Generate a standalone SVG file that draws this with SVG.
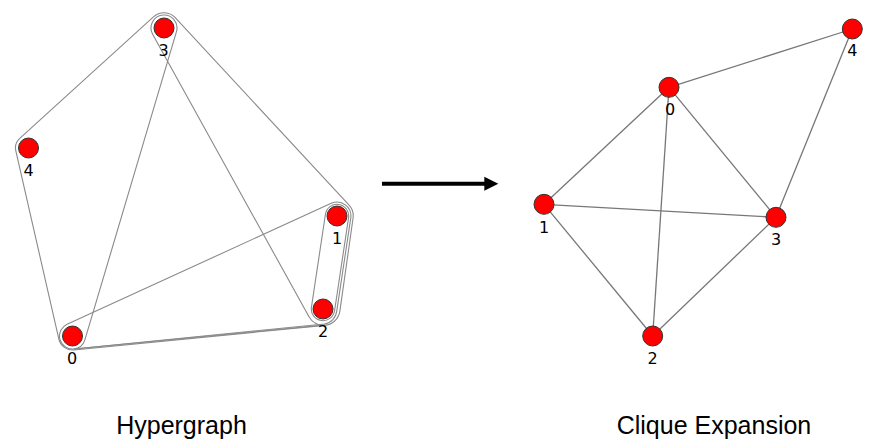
<svg xmlns="http://www.w3.org/2000/svg" width="871" height="446" viewBox="0 0 871 446">
<style>
.hull{fill:none;stroke:#8a8a8a;stroke-width:1.1}
.edge{stroke:#777;stroke-width:1.3;fill:none}
.node circle{fill:#ff0000;stroke:#333;stroke-width:1}
.lbl{font-family:"DejaVu Sans",sans-serif;font-size:16px;fill:#000;text-anchor:middle}
.title{font-family:"Liberation Sans",Arial,sans-serif;font-size:25px;fill:#000;text-anchor:middle}
</style>
<rect width="871" height="446" fill="#fff"/>
<g id="hyperedges">
<path class="hull" d="M 19.76,138.38 L 153.71,16.67 A 15.3 15.3 0 0 1 175.22,17.60 L 348.88,204.99 A 16.2 16.2 0 0 1 353.04,218.28 L 339.83,311.39 A 16.8 16.8 0 0 1 324.61,325.42 L 73.86,349.93 A 14 14 0 0 1 58.85,339.12 L 15.83,150.90 A 13 13 0 0 1 19.76,138.38 Z"/>
<path class="hull" d="M 67.09,324.18 L 331.22,203.36 A 13.9 13.9 0 0 1 350.75,218.07 L 336.75,311.07 A 14.4 14.4 0 0 1 324.49,323.93 L 73.79,348.94 A 13 13 0 0 1 67.09,324.18 Z"/>
<path class="hull" d="M 152.63,34.30 A 13 13 0 1 1 176.46,31.70 L 84.96,339.70 A 13 13 0 0 1 73.74,348.94 L 324.53,324.93 A 16 16 0 0 1 309.00,316.75 Z"/>
<path class="hull" d="M 348.57,217.74 L 334.57,310.74 A 11.7 11.7 0 0 1 311.43,307.26 L 325.43,214.26 A 11.7 11.7 0 0 1 348.57,217.74 Z"/>
</g>
<g id="hg-node-0" class="node"><circle cx="72.5" cy="336" r="10"/><text class="lbl" x="72" y="364">0</text></g>
<g id="hg-node-1" class="node"><circle cx="337" cy="216" r="10"/><text class="lbl" x="337" y="243.5">1</text></g>
<g id="hg-node-2" class="node"><circle cx="323" cy="309" r="10"/><text class="lbl" x="323" y="337">2</text></g>
<g id="hg-node-3" class="node"><circle cx="164" cy="28" r="10"/><text class="lbl" x="163.5" y="56">3</text></g>
<g id="hg-node-4" class="node"><circle cx="28.5" cy="148" r="10"/><text class="lbl" x="28.5" y="176">4</text></g>
<g id="transform-arrow">
<line x1="382" y1="183.7" x2="486" y2="183.7" stroke="#000" stroke-width="4"/>
<polygon points="484.3,176.7 498.3,183.7 484.3,190.7" fill="#000"/>
</g>
<g id="clique-edges">
<line class="edge" x1="669" y1="87.3" x2="852.3" y2="29"/>
<line class="edge" x1="669" y1="87.3" x2="544" y2="204.3"/>
<line class="edge" x1="669" y1="87.3" x2="776" y2="217.3"/>
<line class="edge" x1="669" y1="87.3" x2="652.7" y2="336"/>
<line class="edge" x1="852.3" y1="29" x2="776" y2="217.3"/>
<line class="edge" x1="544" y1="204.3" x2="776" y2="217.3"/>
<line class="edge" x1="544" y1="204.3" x2="652.7" y2="336"/>
<line class="edge" x1="652.7" y1="336" x2="776" y2="217.3"/>
</g>
<g id="ce-node-0" class="node"><circle cx="669" cy="87.3" r="10"/><text class="lbl" x="670" y="115">0</text></g>
<g id="ce-node-1" class="node"><circle cx="544" cy="204.3" r="10"/><text class="lbl" x="544" y="233">1</text></g>
<g id="ce-node-2" class="node"><circle cx="652.7" cy="336" r="10"/><text class="lbl" x="652.7" y="364">2</text></g>
<g id="ce-node-3" class="node"><circle cx="776" cy="217.3" r="10"/><text class="lbl" x="776" y="245">3</text></g>
<g id="ce-node-4" class="node"><circle cx="852.3" cy="29" r="10"/><text class="lbl" x="852.3" y="56">4</text></g>
<g id="titles">
<text class="title" x="181.5" y="434">Hypergraph</text>
<text class="title" x="714" y="434">Clique Expansion</text>
</g>
</svg>
